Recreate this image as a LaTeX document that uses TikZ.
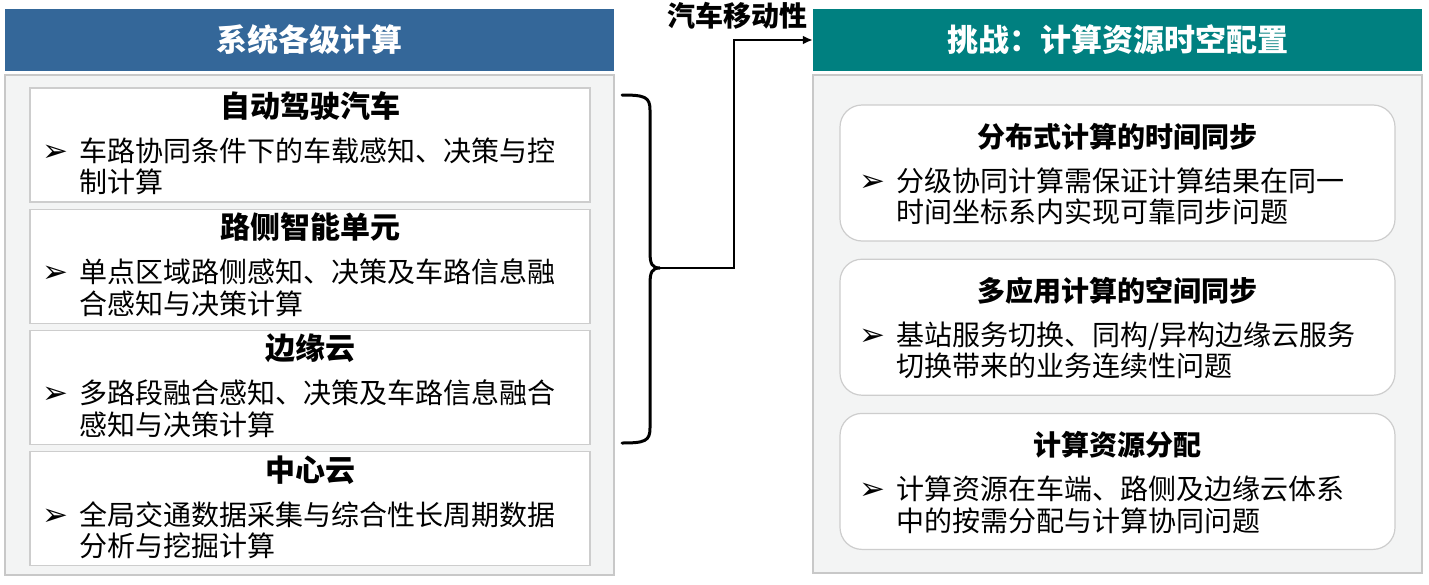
\documentclass[tikz,border=0pt]{standalone}
\usepackage{fontspec}
\setmainfont{Noto Sans CJK SC}
\newfontfamily\bulfont{DejaVu Sans}
\usepackage{xcolor}
\usepackage{tikz}
\usetikzlibrary{arrows.meta,positioning}
\definecolor{hdrblue}{RGB}{52,103,153}
\definecolor{hdrteal}{RGB}{0,128,128}
\definecolor{panelbg}{RGB}{243,244,244}
\definecolor{panelline}{RGB}{200,200,200}
\definecolor{boxline}{RGB}{205,205,205}
\newcommand{\bul}{\makebox[0pt][r]{\smash{\raisebox{0pt}{\bulfont\fontsize{31}{31}\selectfont ➢}}\hspace{11pt}}}
\tikzset{
  hdrbox/.style={
    rectangle,
    minimum width=609pt,
    minimum height=62pt,
    inner sep=0pt,
    text=white,
    font=\fontsize{31}{31}\selectfont\bfseries
  },
  panel/.style={
    rectangle,
    draw=panelline,
    fill=panelbg,
    line width=1.2pt,
    minimum width=609pt,
    inner sep=0pt
  },
  levelbox/.style={
    rectangle,
    draw=boxline,
    fill=white,
    line width=1.2pt,
    minimum width=560pt,
    minimum height=114pt,
    inner sep=0pt
  },
  chalbox/.style={
    levelbox,
    rounded corners=22pt,
    minimum width=555pt,
    minimum height=136pt
  },
  boxtitle/.style={
    anchor=base,
    inner sep=0pt,
    font=\fontsize{30}{30}\selectfont\bfseries
  },
  chaltitle/.style={
    boxtitle,
    font=\fontsize{28}{28}\selectfont\bfseries
  },
  boxtext/.style={
    anchor=north west,
    align=left,
    inner sep=0pt,
    font=\fontsize{28}{31.5}\selectfont
  },
  flowarrow/.style={
    -{Latex[length=10pt,width=9pt]},
    line width=2pt,
    draw=black
  }
}

\begin{document}
\begin{tikzpicture}[x=1pt,y=-1pt]
\useasboundingbox (0,0) rectangle (1429,584);

% left column
\node[hdrbox, fill=hdrblue] (levhdr) at (309.5,40) {系统各级计算};
\node[panel, minimum height=500pt] (levpanel) at (309.5,325) {};
\node[levelbox] (car) at (310,145) {};
\node[levelbox, below=6pt of car] (rsu) {};
\node[levelbox, below=6pt of rsu] (edge) {};
\node[levelbox, below=6pt of edge] (center) {};

\node[boxtitle] (carT) at ([yshift=-30pt]car.north) {自动驾驶汽车};
\node[boxtext] (carB) at ([xshift=50pt,yshift=-50pt]car.north west) {\bul 车路协同条件下的车载感知、决策与控\\制计算};
\node[boxtitle] (rsuT) at ([yshift=-30pt]rsu.north) {路侧智能单元};
\node[boxtext] (rsuB) at ([xshift=50pt,yshift=-50pt]rsu.north west) {\bul 单点区域路侧感知、决策及车路信息融\\合感知与决策计算};
\node[boxtitle] (edgeT) at ([yshift=-30pt]edge.north) {边缘云};
\node[boxtext] (edgeB) at ([xshift=50pt,yshift=-50pt]edge.north west) {\bul 多路段融合感知、决策及车路信息融合\\感知与决策计算};
\node[boxtitle] (centerT) at ([yshift=-30pt]center.north) {中心云};
\node[boxtext] (centerB) at ([xshift=50pt,yshift=-50pt]center.north west) {\bul 全局交通数据采集与综合性长周期数据\\分析与挖掘计算};

% right column
\node[hdrbox, fill=hdrteal] (chalhdr) at (1117.5,40) {挑战：计算资源时空配置};
\node[panel, minimum height=498pt] (chalpanel) at (1117.5,324) {};
\node[chalbox] (timesync) at (1117.5,173) {};
\node[chalbox, below=17pt of timesync] (spacesync) {};
\node[chalbox, below=17pt of spacesync] (alloc) {};

\node[chaltitle] (timesyncT) at ([yshift=-43pt]timesync.north) {分布式计算的时间同步};
\node[boxtext] (timesyncB) at ([xshift=57pt,yshift=-63pt]timesync.north west) {\bul 分级协同计算需保证计算结果在同一\\时间坐标系内实现可靠同步问题};
\node[chaltitle] (spacesyncT) at ([yshift=-43pt]spacesync.north) {多应用计算的空间同步};
\node[boxtext] (spacesyncB) at ([xshift=57pt,yshift=-63pt]spacesync.north west) {\bul 基站服务切换、同构/异构边缘云服务\\切换带来的业务连续性问题};
\node[chaltitle] (allocT) at ([yshift=-43pt]alloc.north) {计算资源分配};
\node[boxtext] (allocB) at ([xshift=57pt,yshift=-63pt]alloc.north west) {\bul 计算资源在车端、路侧及边缘云体系\\中的按需分配与计算协同问题};

% brace and link
\coordinate (brtop) at (622,95);
\coordinate (brbot) at (622,443);
\coordinate (brtip) at (660,268);
\coordinate (bend) at (734,268);
\draw[line width=3pt, line cap=round]
  (brtop) .. controls (645,95) and (650,97) .. (650,110) -- (650,252)
  .. controls (650,264) and (652,268) .. (brtip)
  .. controls (652,268) and (650,272) .. (650,284) -- (650,428)
  .. controls (650,441) and (645,443) .. (brbot);
\draw[flowarrow] (brtip) -- (bend) |- (chalhdr.west);
\node[anchor=base east, inner sep=0pt, font=\fontsize{28}{28}\selectfont\bfseries] (mobility) at (808,26) {汽车移动性};
\end{tikzpicture}
\end{document}
